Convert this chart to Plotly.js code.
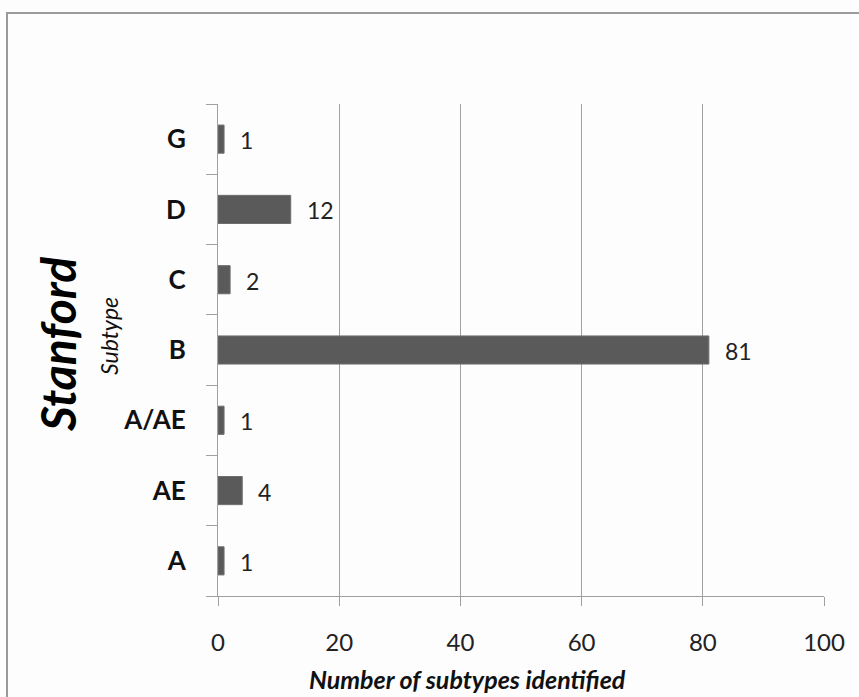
<!DOCTYPE html>
<html>
<head>
<meta charset="utf-8">
<script src="https://cdn.plot.ly/plotly-3.0.1.min.js"></script>
<style>
  html, body { margin: 0; padding: 0; background: #fdfdfd; overflow: hidden; }
  #frame { position: absolute; left: 6px; top: 12px; width: 900px; height: 800px; border: 2px solid #9a9a9a; box-sizing: border-box; }
  #chart { position: absolute; left: 0; top: 0; width: 859px; height: 697px; }
</style>
</head>
<body>
<div id="frame"></div>
<div id="chart"></div>
<script>
const categories = ["A", "AE", "A/AE", "B", "C", "D", "G"];
const counts = [1, 4, 1, 81, 2, 12, 1];
const xTicks = [0, 20, 40, 60, 80, 100];
const xTitle = "Number of subtypes identified";
const yTitle = "Subtype";
const bigTitle = "Stanford";

const FONT = "Lato, 'Open Sans', sans-serif";
const L = 218, R = 824, T = 104, B = 596;

const trace = {
  type: "bar",
  orientation: "h",
  y: categories,
  x: counts,
  width: 0.4,
  marker: { color: "#5a5a5a", line: { color: "#6e6e6e", width: 1 } },
  hoverinfo: "skip"
};

const valueLabels = categories.map((c, i) => ({
  x: counts[i], y: c, xref: "x", yref: "y",
  text: String(counts[i]), showarrow: false,
  xanchor: "left", xshift: 14, yshift: -1,
  font: { family: FONT, size: 23, color: "#222" }
}));

const layout = {
  width: 859, height: 697,
  margin: { l: L, r: 859 - R, t: T, b: 697 - B },
  paper_bgcolor: "rgba(0,0,0,0)",
  plot_bgcolor: "rgba(0,0,0,0)",
  showlegend: false,
  xaxis: {
    range: [0, 100],
    tickvals: xTicks,
    ticktext: xTicks.map(String),
    showgrid: true, gridcolor: "#a0a0a0", gridwidth: 1,
    zeroline: false,
    showline: true, linecolor: "#a0a0a0", linewidth: 1,
    ticks: "outside", ticklen: 9, tickcolor: "#a0a0a0",
    ticklabelstandoff: 16,
    tickfont: { family: FONT, size: 24, color: "#222" },
    fixedrange: true
  },
  yaxis: {
    type: "category",
    categoryorder: "array", categoryarray: categories,
    range: [-0.5, 6.5],
    showgrid: false, zeroline: false,
    showline: true, linecolor: "#a0a0a0", linewidth: 1,
    ticks: "outside", ticklen: 11, tickcolor: "#a0a0a0",
    tickson: "boundaries",
    ticklabelstandoff: 26,
    tickfont: { family: FONT, size: 26, color: "#111", weight: "bold" },
    fixedrange: true
  },
  annotations: valueLabels.concat([
    {
      text: "<i>" + xTitle + "</i>", xref: "paper", yref: "paper",
      x: (467 - L) / (R - L), y: -(679 - B) / (B - T),
      xanchor: "center", yanchor: "middle", showarrow: false,
      font: { family: FONT, size: 25, color: "#111", weight: "bold" }
    },
    {
      text: "<i>" + yTitle + "</i>", xref: "paper", yref: "paper",
      x: -(L - 109) / (R - L), y: (B - 336) / (B - T),
      xanchor: "center", yanchor: "middle", textangle: -90, showarrow: false,
      font: { family: FONT, size: 23, color: "#111" }
    },
    {
      text: "<b><i>" + bigTitle + "</i></b>", xref: "paper", yref: "paper",
      x: -(L - 57) / (R - L), y: (B - 345) / (B - T),
      xanchor: "center", yanchor: "middle", textangle: -90, showarrow: false,
      font: { family: FONT, size: 48, color: "#000" }
    }
  ])
};

Plotly.newPlot("chart", [trace], layout, { staticPlot: true, displayModeBar: false });
</script>
</body>
</html>
